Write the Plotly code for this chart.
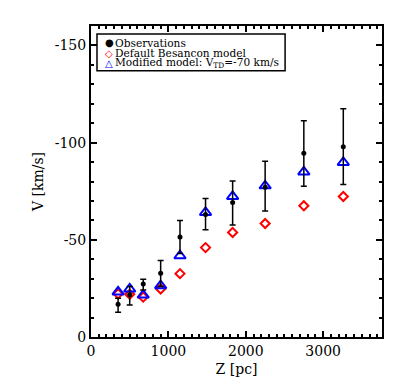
import plotly.graph_objects as go

# distance from the plane, pc
z_pc = [350, 500, 675, 900, 1150, 1480, 1830, 2250, 2750, 3260]

# observed V, km/s, with asymmetric error bars
v_obs = [-16.9, -21.8, -27.3, -32.8, -51.4, -63.0, -69.2, -77.0, -94.5, -97.9]
v_obs_lo = [-12.7, -16.5, -24.2, -26.0, -43.0, -55.2, -57.6, -64.8, -77.5, -78.4]
v_obs_hi = [-20.0, -26.0, -29.7, -39.3, -60.0, -71.3, -80.3, -90.4, -111.3, -117.4]

# model predictions
v_besancon = [-22.2, -22.0, -20.5, -24.7, -32.6, -46.0, -53.8, -58.4, -67.5, -72.3]
v_modified = [-23.2, -24.7, -21.6, -26.4, -41.8, -64.1, -72.3, -77.8, -84.9, -89.8]

x_ticks = [0, 1000, 2000, 3000]
y_ticks = [0, -50, -100, -150]

legend_lines = [
    ("●", "black", "Observations"),
    ("<b>◇</b>", "red", "Default Besancon model"),
    ("<b>△</b>", "blue", "Modified model: V<sub>TD</sub>=-70 km/s"),
]

err_plus = [lo - v for v, lo in zip(v_obs, v_obs_lo)]
err_minus = [v - hi for v, hi in zip(v_obs, v_obs_hi)]

font = "DejaVu Serif"

fig = go.Figure()
fig.add_trace(go.Scatter(
    x=z_pc, y=v_besancon, mode="markers",
    marker=dict(symbol="diamond-open", size=7, color="red", line=dict(width=2, color="red"))))
fig.add_trace(go.Scatter(
    x=z_pc, y=v_modified, mode="markers",
    marker=dict(symbol="triangle-up-open", size=10, color="blue", line=dict(width=2, color="blue"))))
fig.add_trace(go.Scatter(
    x=z_pc, y=v_obs, mode="markers",
    marker=dict(symbol="circle", size=5, color="black"),
    error_y=dict(type="data", symmetric=False, array=err_plus, arrayminus=err_minus,
                 color="black", thickness=1.5, width=3)))

axis_common = dict(
    showline=True, linewidth=2, linecolor="black", mirror="ticks",
    ticks="inside", ticklen=6, tickwidth=1.5, tickcolor="black",
    showgrid=False, zeroline=False, tickmode="array",
    tickfont=dict(family=font, size=14, color="black"),
    title_font=dict(family=font, size=14, color="black"),
)

fig.update_xaxes(range=[0, 3760], tickvals=x_ticks, ticktext=[str(t) for t in x_ticks],
                 title_text="Z [pc]", title_standoff=6,
                 minor=dict(dtick=100, ticks="inside", ticklen=3, tickcolor="black"),
                 **axis_common)
fig.update_yaxes(range=[0, -160], tickvals=y_ticks, ticktext=[str(t) for t in y_ticks],
                 title_text="V [km/s]", title_standoff=8,
                 minor=dict(dtick=10, ticks="inside", ticklen=3, tickcolor="black"),
                 **axis_common)

# compact IDL-style legend box drawn with text
fig.add_shape(type="rect", xref="paper", yref="paper",
              x0=0.0206, x1=0.667, y0=0.856, y1=0.974,
              line=dict(color="black", width=1.5), fillcolor="white")
for i, (sym, col, label) in enumerate(legend_lines):
    yy = 0.946 - i * 0.033
    fig.add_annotation(xref="paper", yref="paper", x=0.062, y=yy, text=sym,
                       showarrow=False, xanchor="center", yanchor="middle",
                       font=dict(family=font, size=10, color=col))
    fig.add_annotation(xref="paper", yref="paper", x=0.0756, y=yy, text=label,
                       showarrow=False, xanchor="left", yanchor="middle",
                       font=dict(family=font, size=10.6, color="black"))

fig.update_layout(
    width=401, height=384,
    margin=dict(l=83, r=27, t=18, b=55),
    plot_bgcolor="white", paper_bgcolor="white",
    showlegend=False,
)

fig.write_html("out.html")
